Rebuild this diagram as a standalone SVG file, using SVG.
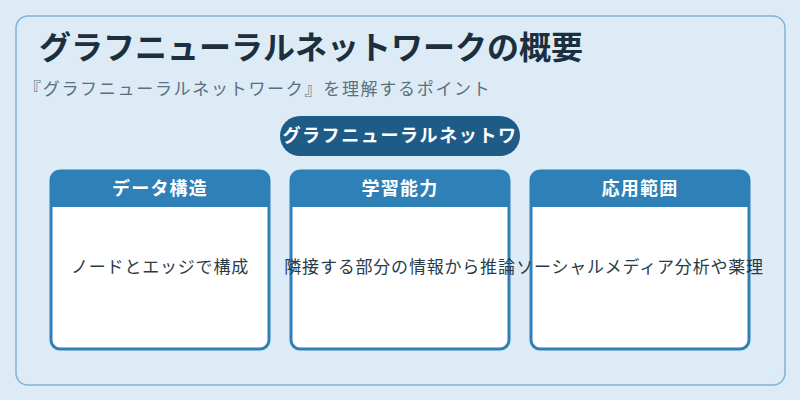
<svg xmlns="http://www.w3.org/2000/svg" width="800" height="400" viewBox="0 0 800 400">
<style>
.t{font-family:"Noto Sans CJK JP","Noto Sans",sans-serif}
.title{font-size:32px;font-weight:700;fill:#1b2f3e;letter-spacing:0px}
.sub{font-size:17px;fill:#5b6f80;letter-spacing:1.7px}
.pill{font-size:18px;font-weight:700;fill:#ffffff;letter-spacing:1.6px}
.hd{font-size:18px;font-weight:700;fill:#ffffff;letter-spacing:1.2px}
.bd{font-size:17px;fill:#2a3a48;letter-spacing:0.8px}
.card{fill:#ffffff;stroke:#2e80b7;stroke-width:3}
.band{fill:#2e80b7}
</style>
<rect width="800" height="400" fill="#dcebf6"/>
<rect x="16" y="16" width="769" height="369" rx="12" fill="#dcebf6" stroke="#7fb3d5" stroke-width="1.5"/>
<text class="t title" x="39" y="59">グラフニューラルネットワークの概要</text>
<text class="t sub" x="24" y="95">『グラフニューラルネットワーク』を理解するポイント</text>
<g id="center">
<rect x="280" y="116" width="240" height="40" rx="20" fill="#1f5b87"/>
<text class="t pill" x="400" y="142" text-anchor="middle">グラフニューラルネットワ</text>
</g>
<g id="card1">
<rect class="card" x="51" y="171" width="218" height="178" rx="9"/>
<path class="band" d="M51,207 V180 a9,9 0 0 1 9,-9 H260 a9,9 0 0 1 9,9 V207 Z"/>
<text class="t hd" x="160" y="195" text-anchor="middle">データ構造</text>
<text class="t bd" x="160" y="273" text-anchor="middle">ノードとエッジで構成</text>
</g>
<g id="card2">
<rect class="card" x="291" y="171" width="218" height="178" rx="9"/>
<path class="band" d="M291,207 V180 a9,9 0 0 1 9,-9 H500 a9,9 0 0 1 9,9 V207 Z"/>
<text class="t hd" x="400" y="195" text-anchor="middle">学習能力</text>
<text class="t bd" x="400" y="273" text-anchor="middle">隣接する部分の情報から推論</text>
</g>
<g id="card3">
<rect class="card" x="531" y="171" width="218" height="178" rx="9"/>
<path class="band" d="M531,207 V180 a9,9 0 0 1 9,-9 H740 a9,9 0 0 1 9,9 V207 Z"/>
<text class="t hd" x="640" y="195" text-anchor="middle">応用範囲</text>
<text class="t bd" x="640" y="273" text-anchor="middle">ソーシャルメディア分析や薬理</text>
</g>
<g id="connectors"></g>
</svg>
